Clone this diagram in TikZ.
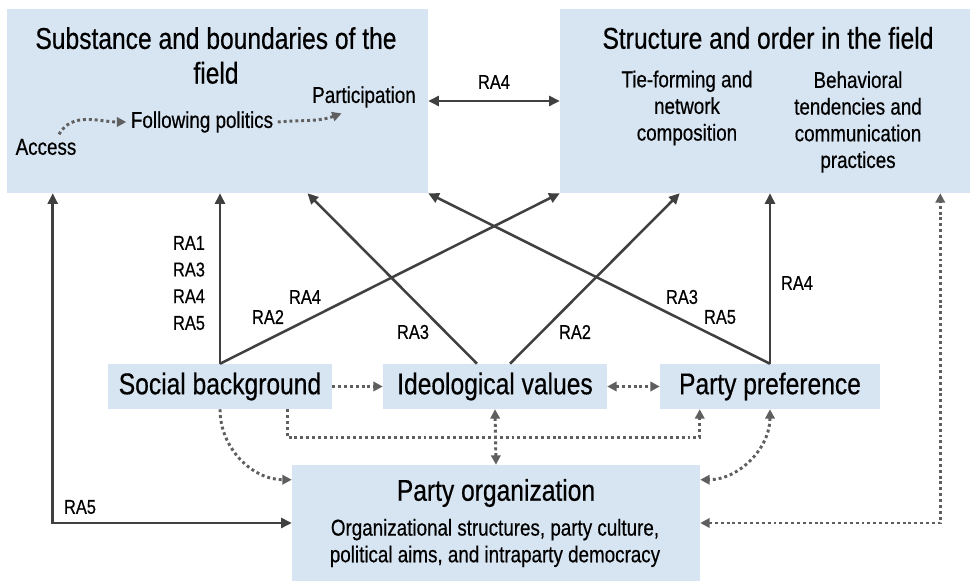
\documentclass[tikz,border=0pt]{standalone}
\usepackage{fontspec}
\setmainfont{Liberation Sans}[FakeStretch=0.82,FakeBold=0.5]
\usetikzlibrary{arrows.meta,calc}
\definecolor{boxblue}{RGB}{215,228,241}
\definecolor{arrgray}{RGB}{64,64,64}
\definecolor{dotgray}{RGB}{95,95,95}

\begin{document}
\begin{tikzpicture}[x=0.75pt,y=0.75pt,
  box/.style n args={2}{fill=boxblue,minimum width=#1*0.75pt,minimum height=#2*0.75pt,inner sep=0pt},
  big/.style={font=\fontsize{22.5}{26}\selectfont,align=center},
  small/.style={font=\fontsize{17.2}{20}\selectfont,align=center},
  ra/.style={font=\fontsize{15}{20}\selectfont,align=center,inner sep=0pt},
  arr/.style={draw=arrgray,line width=1.9pt,>={Triangle[length=8pt,width=7.5pt]},->},
  dotarr/.style={draw=dotgray,line width=2.2pt,dash pattern=on 2.2pt off 2.2pt,>={Triangle[length=7pt,width=7pt]},->}]
\fill[white] (0,0) rectangle (976,581);
\useasboundingbox (0,0) rectangle (976,581);

% the two fields on top
\node[box={421}{184}] (substance) at (217.5,480) {};
\node[box={410}{184}] (structure) at (765,480) {};
\node[big] (subtitle) at (216,525.5) {Substance and boundaries of the\\field};
\node[small] (particip) at (364,484) {Participation};
\node[small] (following) at (202,459) {Following politics};
\node[small] (access) at (46,434) {Access};
\node[big] (strtitle) at (768,543) {Structure and order in the field};
\node[small] (ties) at (687,473) {Tie-forming and\\network\\composition};
\node[small] (behav) at (858,459) {Behavioral\\tendencies and\\communication\\practices};

% middle row and party organization
\node[box={224}{45},big] (social) at (220,194.5) {Social background};
\node[box={224}{45},big] (ideology) at (495,194.5) {Ideological values};
\node[box={220}{45},big] (party) at (770,194.5) {Party preference};
\node[box={408}{116}] (partyorg) at (496,58) {};
\node[big] (orgtitle) at (496,88) {Party organization};
\node[small] (orgsub) at (495,38) {Organizational structures, party culture,\\political aims, and intraparty democracy};

% RA labels
\node[ra] (ra4top) at (494,499) {RA4};
\node[ra] (rasocial) at (189,298) {RA1\\RA3\\RA4\\RA5};
\node[ra] (ra2a) at (268,264) {RA2};
\node[ra] (ra4a) at (305,284) {RA4};
\node[ra] (ra3a) at (413,249) {RA3};
\node[ra] (ra2b) at (575,249) {RA2};
\node[ra] (ra3b) at (682,284) {RA3};
\node[ra] (ra5b) at (720,264) {RA5};
\node[ra] (ra4b) at (797,298) {RA4};
\node[ra] (ra5a) at (80,74) {RA5};

% solid arrows
\draw[arr,<->] (substance.east) -- (structure.west);
\draw[arr] (social.north) -- (social.north |- substance.south);
\draw[arr] (social.north) -- (structure.south west);
\draw[arr] ($(ideology.north)+(-18,0)$) -- ($(substance.south)+(90,0)$);
\draw[arr] ($(ideology.north)+(15,0)$) -- ($(structure.south west)+(120,0)$);
\draw[arr] (party.north) -- (substance.south east);
\draw[arr] (party.north) -- (party.north |- structure.south);
\draw[arr,<->] (partyorg.west) -| ($(substance.south west)+(46,0)$);

% dotted arrows
\draw[dotarr] ($(access.north)+(13,0)$) to[out=60,in=180] (following.west);
\draw[dotarr] (following.east) to[out=5,in=-160] ($(particip.south west)+(34,-1)$);
\draw[dotarr] (social.east) -- (ideology.west);
\draw[dotarr,<->] (ideology.east) -- (party.west);
\draw[dotarr] ($(social.south east)+(-45,0)$) -- ++(0,-28) -| ($(party.south west)+(40,0)$);
\draw[dotarr,<->] (ideology.south) -- (partyorg.north);
\draw[dotarr] (social.south) to[out=-90,in=180] ($(partyorg.north west)+(0,-15)$);
\draw[dotarr,<->] (party.south) to[out=-90,in=0] ($(partyorg.north east)+(0,-15)$);
\draw[dotarr,<->] (partyorg.east) -| ($(structure.south east)+(-30,0)$);
\end{tikzpicture}
\end{document}
